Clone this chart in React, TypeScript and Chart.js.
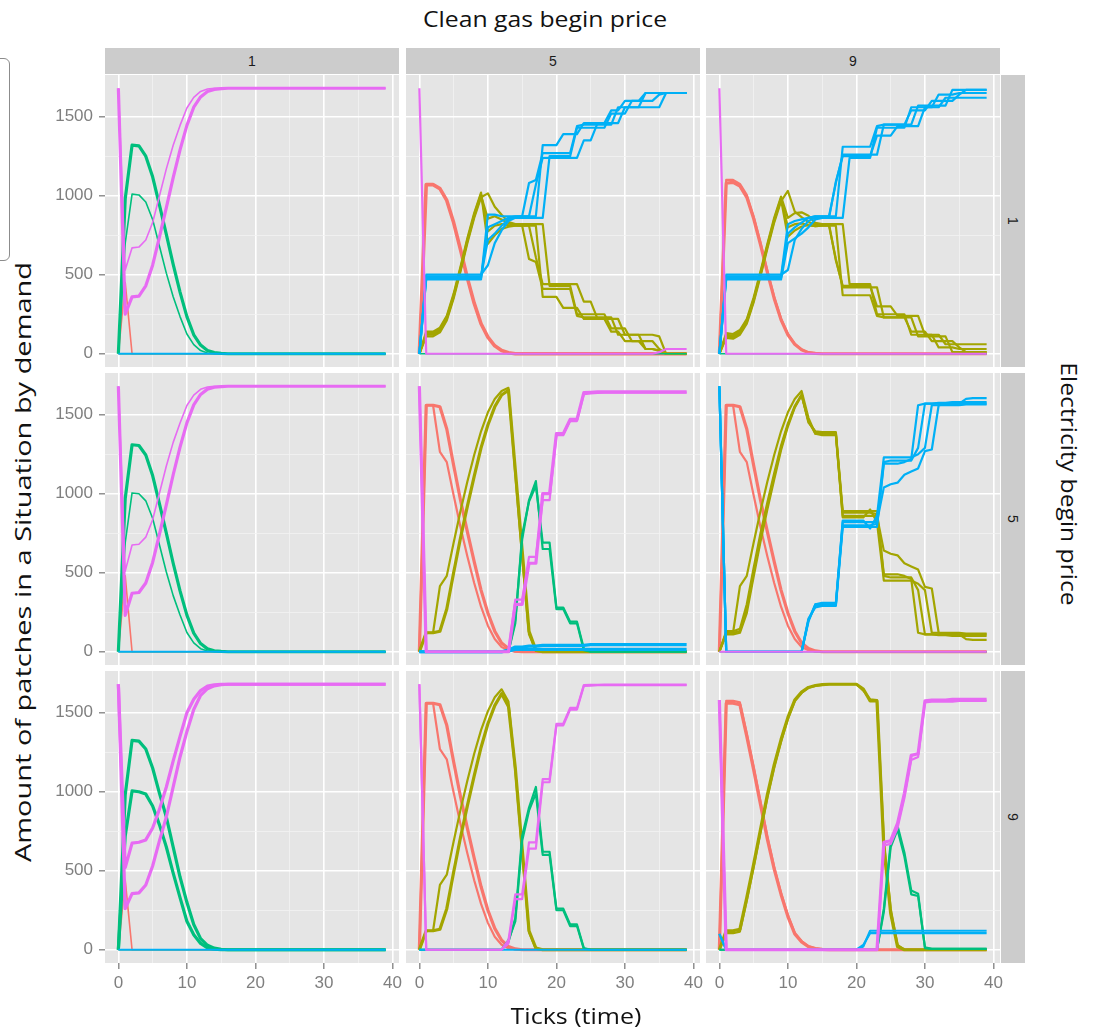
import { useEffect, useLayoutEffect, useRef, useState } from "react";
import { Chart, registerables } from "chart.js";

Chart.register(...registerables);

// ---------------- data ----------------
const TICKS = [0,1,2,3,4,5,6,7,8,9,10,11,12,13,14,15,16,17,18,19,20,21,22,23,24,25,26,27,28,29,30,31,32,33,34,35,36,37,38,39];
const X_GRID = [0, 5, 10, 15, 20, 25, 30, 35, 40];
const Y_GRID = [0, 250, 500, 750, 1000, 1250, 1500];
const GAS_LEVELS = ["1", "5", "9"];   // columns: Clean gas begin price
const ELEC_LEVELS = ["1", "5", "9"];  // rows: Electricity begin price

const ZERO = [0,0,0,0,0,0,0,0,0,0, 0,0,0,0,0,0,0,0,0,0, 0,0,0,0,0,0,0,0,0,0, 0,0,0,0,0,0,0,0,0,0];

// electricity 1, gas 1
const e1g1_red = [0,450,0,0,0,0,0,0,0,0, 0,0,0,0,0,0,0,0,0,0, 0,0,0,0,0,0,0,0,0,0, 0,0,0,0,0,0,0,0,0,0];
const e1g1_greenA = [0,980,1320,1315,1250,1120,940,755,565,390, 235,120,55,20,7,2,0,0,0,0, 0,0,0,0,0,0,0,0,0,0, 0,0,0,0,0,0,0,0,0,0];
const e1g1_greenB = [0,700,1010,1005,960,850,680,510,360,235, 125,58,20,5,0,0,0,0,0,0, 0,0,0,0,0,0,0,0,0,0, 0,0,0,0,0,0,0,0,0,0];
const e1g1_magA = [1680,250,360,365,430,560,740,925,1115,1290, 1445,1560,1625,1660,1673,1678,1680,1680,1680,1680, 1680,1680,1680,1680,1680,1680,1680,1680,1680,1680, 1680,1680,1680,1680,1680,1680,1680,1680,1680,1680];
const e1g1_magB = [1680,530,670,675,720,830,1000,1170,1320,1445, 1555,1622,1660,1675,1680,1680,1680,1680,1680,1680, 1680,1680,1680,1680,1680,1680,1680,1680,1680,1680, 1680,1680,1680,1680,1680,1680,1680,1680,1680,1680];

// electricity 5, gas 1
const e5g1_red = [0,480,0,0,0,0,0,0,0,0, 0,0,0,0,0,0,0,0,0,0, 0,0,0,0,0,0,0,0,0,0, 0,0,0,0,0,0,0,0,0,0];
const e5g1_greenA = [0,970,1310,1305,1245,1115,935,750,560,385, 232,118,52,18,6,2,0,0,0,0, 0,0,0,0,0,0,0,0,0,0, 0,0,0,0,0,0,0,0,0,0];
const e5g1_greenB = [0,690,1005,1000,955,845,675,505,355,232, 122,56,19,5,0,0,0,0,0,0, 0,0,0,0,0,0,0,0,0,0, 0,0,0,0,0,0,0,0,0,0];
const e5g1_magA = [1680,230,370,375,435,565,745,930,1120,1295, 1448,1562,1628,1662,1674,1678,1680,1680,1680,1680, 1680,1680,1680,1680,1680,1680,1680,1680,1680,1680, 1680,1680,1680,1680,1680,1680,1680,1680,1680,1680];
const e5g1_magB = [1680,510,675,680,725,835,1005,1175,1325,1448, 1558,1624,1661,1675,1680,1680,1680,1680,1680,1680, 1680,1680,1680,1680,1680,1680,1680,1680,1680,1680, 1680,1680,1680,1680,1680,1680,1680,1680,1680,1680];

// electricity 9, gas 1
const e9g1_red = [0,440,0,0,0,0,0,0,0,0, 0,0,0,0,0,0,0,0,0,0, 0,0,0,0,0,0,0,0,0,0, 0,0,0,0,0,0,0,0,0,0];
const e9g1_greenA = [0,980,1325,1320,1270,1150,990,840,650,460, 300,160,70,28,10,3,0,0,0,0, 0,0,0,0,0,0,0,0,0,0, 0,0,0,0,0,0,0,0,0,0];
const e9g1_greenB = [0,720,1005,1000,985,910,790,650,485,330, 180,95,40,12,4,0,0,0,0,0, 0,0,0,0,0,0,0,0,0,0, 0,0,0,0,0,0,0,0,0,0];
const e9g1_magA = [1680,260,355,360,410,530,690,840,1030,1220, 1380,1520,1610,1652,1670,1677,1680,1680,1680,1680, 1680,1680,1680,1680,1680,1680,1680,1680,1680,1680, 1680,1680,1680,1680,1680,1680,1680,1680,1680,1680];
const e9g1_magB = [1680,520,675,680,695,770,890,1030,1195,1350, 1500,1585,1640,1668,1676,1680,1680,1680,1680,1680, 1680,1680,1680,1680,1680,1680,1680,1680,1680,1680, 1680,1680,1680,1680,1680,1680,1680,1680,1680,1680];

// electricity 1, gas 5
const e1g5_red = [0,1070,1070,1045,970,830,660,480,320,190, 105,50,20,6,0,0,0,0,0,0, 0,0,0,0,0,0,0,0,0,0, 0,0,0,0,0,0,0,0,0,0];
const e1g5_mag = [1680,0,0,0,0,0,0,0,0,0, 0,0,0,0,0,0,0,0,0,0, 0,0,0,0,0,0,0,0,0,0, 0,0,0,0,0,10,30,30,30,30];
const e1g5_blueA = [0,480,480,480,480,480,480,480,480,480, 800,820,840,860,870,870,1080,1100,1270,1270, 1270,1270,1270,1440,1450,1450,1450,1450,1450,1560, 1560,1560,1560,1650,1650,1650,1650,1650,1650,1650];
const e1g5_blueB = [0,470,470,470,470,470,470,470,470,470, 880,880,870,870,870,870,870,870,1320,1320, 1320,1390,1390,1390,1460,1460,1460,1460,1540,1540, 1600,1600,1600,1600,1600,1640,1650,1650,1650,1650];
const e1g5_blueC = [0,490,490,490,490,490,490,490,490,490, 720,760,810,850,865,870,870,1070,1240,1240, 1240,1240,1240,1240,1350,1350,1460,1460,1460,1460, 1560,1560,1560,1560,1560,1560,1650,1650,1650,1650];
const e1g5_blueD = [0,500,500,500,500,500,500,500,500,500, 560,700,780,840,860,860,860,860,860,1250, 1250,1250,1250,1430,1430,1430,1430,1430,1520,1520, 1520,1600,1600,1650,1650,1650,1650,1650,1650,1650];
const e1g5_oliveA = [0,130,130,155,230,370,540,720,880,1010, 775,810,820,814,810,810,600,580,410,410, 410,410,410,240,230,230,230,230,230,120, 120,120,120,30,30,20,0,0,0,0];
const e1g5_oliveB = [0,140,140,165,240,380,550,730,890,1020, 695,750,790,804,810,810,810,810,360,360, 360,290,290,290,220,220,220,220,140,140, 80,80,80,80,80,30,0,0,0,0];
const e1g5_oliveC = [0,120,120,145,220,360,530,710,870,1000, 855,870,850,824,815,810,810,610,440,440, 440,440,440,440,330,330,220,220,220,220, 120,120,120,120,120,110,0,0,0,0];
const e1g5_oliveD = [0,110,110,135,210,350,520,700,860,990, 1015,930,880,834,820,820,820,820,820,430, 430,430,430,250,250,250,250,250,160,160, 160,80,80,30,30,20,0,0,0,0];

// electricity 1, gas 9
const e1g9_redA = [0,1080,1085,1060,990,855,690,515,350,215, 120,60,25,7,2,0,0,0,0,0, 0,0,0,0,0,0,0,0,0,0, 0,0,0,0,0,0,0,0,0,0];
const e1g9_redB = [0,1100,1100,1075,1005,870,705,525,360,222, 125,62,26,8,2,0,0,0,0,0, 0,0,0,0,0,0,0,0,0,0, 0,0,0,0,0,0,0,0,0,0];
const e1g9_mag = [1680,0,0,0,0,0,0,0,0,0, 0,0,0,0,0,0,0,0,0,0, 0,0,0,0,0,0,0,0,0,0, 0,0,0,0,0,0,0,0,0,0];
const e1g9_blueA = [0,480,480,480,480,480,480,480,480,480, 760,800,830,860,870,870,870,870,1310,1310, 1310,1310,1310,1440,1450,1450,1450,1450,1450,1570, 1570,1570,1570,1570,1670,1670,1670,1670,1670,1670];
const e1g9_blueB = [0,470,470,470,470,470,470,470,470,470, 700,730,760,800,850,860,860,1090,1250,1250, 1250,1250,1250,1380,1380,1380,1440,1440,1440,1440, 1560,1560,1560,1620,1620,1620,1620,1620,1620,1620];
const e1g9_blueC = [0,490,490,490,490,490,490,490,490,490, 820,840,850,860,870,870,870,1080,1260,1260, 1260,1260,1260,1260,1450,1450,1450,1450,1540,1540, 1540,1600,1600,1600,1600,1640,1670,1670,1670,1670];
const e1g9_blueD = [0,500,500,500,500,500,500,500,500,500, 530,720,790,840,860,860,860,860,860,1240, 1240,1240,1240,1430,1430,1430,1430,1430,1560,1560, 1560,1560,1640,1640,1640,1650,1650,1650,1650,1650];
const e1g9_oliveA = [0,120,115,140,210,345,510,685,850,985, 800,820,825,813,808,810,810,810,370,370, 370,370,370,240,230,230,230,230,230,110, 110,110,110,110,10,10,10,10,10,10];
const e1g9_oliveB = [0,130,125,150,220,355,520,695,860,995, 860,890,895,873,828,820,820,590,430,430, 430,430,430,300,300,300,240,240,240,240, 120,120,120,60,60,60,60,60,60,60];
const e1g9_oliveC = [0,110,105,130,200,335,500,675,840,975, 740,780,805,813,808,810,810,600,420,420, 420,420,420,420,230,230,230,230,140,140, 140,80,80,80,80,40,10,10,10,10];
const e1g9_oliveD = [0,100,95,120,190,325,490,665,830,965, 1030,900,865,833,818,820,820,820,820,440, 440,440,440,250,250,250,250,250,120,120, 120,120,40,40,40,30,30,30,30,30];

// electricity 5, gas 5
const e5g5_redA = [0,1560,1560,1550,1410,1180,960,760,570,390, 245,130,55,20,3,0,0,0,0,0, 0,0,0,0,0,0,0,0,0,0, 0,0,0,0,0,0,0,0,0,0];
const e5g5_redB = [0,1560,1560,1265,1200,990,790,605,435,285, 165,80,30,10,0,0,0,0,0,0, 0,0,0,0,0,0,0,0,0,0, 0,0,0,0,0,0,0,0,0,0];
const e5g5_oliveA = [0,120,120,130,270,500,720,920,1110,1290, 1435,1550,1625,1655,1150,640,130,10,0,0, 0,0,0,0,0,0,0,0,0,0, 0,0,0,0,0,0,0,0,0,0];
const e5g5_oliveB = [0,120,120,415,480,690,890,1075,1245,1395, 1515,1600,1650,1670,1120,600,110,5,0,0, 0,0,0,0,0,0,0,0,0,0, 0,0,0,0,0,0,0,0,0,0];
const e5g5_greenA = [0,0,0,0,0,0,0,0,0,0, 0,0,0,0,200,710,960,1080,650,650, 270,270,180,180,10,0,0,0,0,0, 0,0,0,0,0,0,0,0,0,0];
const e5g5_greenB = [0,0,0,0,0,0,0,0,0,0, 0,0,0,0,180,740,950,1050,690,690, 280,280,190,190,20,0,0,0,0,0, 0,0,0,0,0,0,0,0,0,0];
const e5g5_magA = [1680,0,0,0,0,0,0,0,0,0, 0,0,0,0,300,300,560,560,1000,1000, 1380,1380,1470,1470,1640,1642,1644,1645,1645,1645, 1645,1645,1645,1645,1645,1645,1645,1645,1645,1645];
const e5g5_magB = [1680,0,0,0,0,0,0,0,0,0, 0,0,0,0,330,330,600,600,960,960, 1370,1370,1460,1460,1630,1635,1638,1640,1640,1640, 1640,1640,1640,1640,1640,1640,1640,1640,1640,1640];
const e5g5_blueA = [0,0,0,0,0,0,0,0,0,0, 0,0,0,10,30,30,35,35,40,40, 40,40,40,40,40,45,45,45,45,45, 45,45,45,45,45,45,45,45,45,45];
const e5g5_blueB = [0,0,0,0,0,0,0,0,0,0, 0,0,0,5,15,15,15,15,15,15, 15,15,15,15,15,15,15,15,15,15, 15,15,15,15,15,15,15,15,15,15];

// electricity 9, gas 5
const e9g5_redA = [0,1560,1560,1550,1420,1190,970,770,580,400, 250,135,60,20,5,0,0,0,0,0, 0,0,0,0,0,0,0,0,0,0, 0,0,0,0,0,0,0,0,0,0];
const e9g5_redB = [0,1560,1560,1270,1205,995,795,610,440,290, 170,82,32,10,2,0,0,0,0,0, 0,0,0,0,0,0,0,0,0,0, 0,0,0,0,0,0,0,0,0,0];
const e9g5_oliveA = [0,120,120,130,260,490,710,910,1100,1280, 1430,1545,1620,1540,1150,640,120,10,0,0, 0,0,0,0,0,0,0,0,0,0, 0,0,0,0,0,0,0,0,0,0];
const e9g5_oliveB = [0,120,120,410,475,685,885,1070,1240,1390, 1510,1598,1648,1570,1130,620,110,5,0,0, 0,0,0,0,0,0,0,0,0,0, 0,0,0,0,0,0,0,0,0,0];
const e9g5_greenA = [0,0,0,0,0,0,0,0,0,0, 0,0,0,60,180,690,880,990,600,600, 250,250,150,150,5,0,0,0,0,0, 0,0,0,0,0,0,0,0,0,0];
const e9g5_greenB = [0,0,0,0,0,0,0,0,0,0, 0,0,0,50,200,720,900,1030,620,620, 260,260,160,160,10,0,0,0,0,0, 0,0,0,0,0,0,0,0,0,0];
const e9g5_magA = [1680,0,0,0,0,0,0,0,0,0, 0,0,0,60,350,350,680,680,1080,1080, 1430,1430,1530,1530,1675,1676,1677,1678,1678,1678, 1678,1678,1678,1678,1678,1678,1678,1678,1678,1678];
const e9g5_magB = [1680,0,0,0,0,0,0,0,0,0, 0,0,0,40,320,320,640,640,1060,1060, 1420,1420,1520,1520,1670,1672,1674,1675,1675,1675, 1675,1675,1675,1675,1675,1675,1675,1675,1675,1675];

// electricity 5, gas 9
const e5g9_redA = [0,1560,1560,1550,1410,1180,960,760,570,390, 245,130,55,20,5,0,0,0,0,0, 0,0,0,0,0,0,0,0,0,0, 0,0,0,0,0,0,0,0,0,0];
const e5g9_redB = [0,1560,1560,1265,1200,990,790,605,435,285, 165,80,30,10,2,0,0,0,0,0, 0,0,0,0,0,0,0,0,0,0, 0,0,0,0,0,0,0,0,0,0];
const e5g9_oliveA = [0,120,120,130,270,500,720,920,1110,1290, 1435,1550,1625,1460,1390,1380,1380,1380,880,880, 880,880,880,870,480,470,470,470,470,390, 110,110,110,110,110,110,110,110,110,110];
const e5g9_oliveB = [0,120,120,415,480,690,890,1075,1245,1395, 1515,1600,1650,1480,1380,1370,1370,1370,860,860, 860,860,860,860,640,620,610,560,540,520, 410,400,120,115,115,110,80,75,75,75];
const e5g9_oliveC = [0,130,130,145,300,530,750,945,1130,1305, 1445,1555,1628,1450,1395,1390,1390,1390,890,890, 890,890,890,890,490,490,490,480,460,120, 110,110,105,105,100,100,100,100,100,100];
const e5g9_oliveD = [0,110,110,120,245,475,695,900,1090,1275, 1425,1545,1622,1460,1380,1380,1380,1380,850,850, 850,850,900,820,450,450,450,450,450,430, 390,120,120,120,120,120,115,115,115,115];
const e5g9_blueA = [1680,0,0,0,0,0,0,0,0,0, 0,0,0,200,290,300,300,300,800,800, 800,800,800,810,1200,1210,1210,1210,1210,1290, 1570,1570,1570,1570,1570,1570,1570,1570,1570,1570];
const e5g9_blueB = [1680,0,0,0,0,0,0,0,0,0, 0,0,0,190,300,310,310,310,820,820, 820,820,820,820,1040,1060,1070,1120,1140,1160, 1270,1280,1560,1565,1565,1570,1600,1605,1605,1605];
const e5g9_blueC = [1680,0,0,0,0,0,0,0,0,0, 0,0,0,210,280,290,290,290,790,790, 790,790,790,790,1190,1190,1190,1200,1220,1560, 1570,1570,1575,1575,1580,1580,1580,1580,1580,1580];
const e5g9_blueD = [1680,0,0,0,0,0,0,0,0,0, 0,0,0,200,300,300,300,300,830,830, 830,830,780,860,1230,1230,1230,1230,1230,1250, 1290,1560,1560,1560,1560,1560,1565,1565,1565,1565];

// electricity 9, gas 9
const e9g9_redA = [0,1560,1560,1550,1350,1140,920,700,510,350, 210,100,50,20,8,2,0,0,0,0, 0,0,0,0,0,0,0,0,0,0, 0,0,0,0,0,0,0,0,0,0];
const e9g9_redB = [0,1575,1575,1565,1370,1160,940,720,525,360, 220,108,55,22,9,2,0,0,0,0, 0,0,0,0,0,0,0,0,0,0, 0,0,0,0,0,0,0,0,0,0];
const e9g9_oliveA = [0,120,120,130,330,540,760,980,1170,1330, 1470,1580,1630,1660,1672,1678,1680,1680,1680,1680, 1680,1650,1575,1575,650,230,20,0,0,0, 0,0,0,0,0,0,0,0,0,0];
const e9g9_oliveB = [0,105,105,115,310,520,740,960,1150,1315, 1460,1572,1625,1658,1670,1676,1680,1680,1680,1680, 1680,1640,1585,1580,700,260,30,0,0,0, 0,0,0,0,0,0,0,0,0,0];
const e9g9_greenA = [0,0,0,0,0,0,0,0,0,0, 0,0,0,0,0,0,0,0,0,0, 0,0,0,0,260,675,785,615,375,355, 10,5,5,5,5,5,5,5,5,5];
const e9g9_greenB = [0,0,0,0,0,0,0,0,0,0, 0,0,0,0,0,0,0,0,0,0, 0,0,0,0,240,650,760,590,350,340, 15,5,5,5,5,5,5,5,5,5];
const e9g9_magA = [1580,0,0,0,0,0,0,0,0,0, 0,0,0,0,0,0,0,0,0,0, 0,0,0,0,660,670,770,960,1200,1220, 1565,1570,1570,1570,1570,1575,1575,1575,1575,1575];
const e9g9_magB = [1580,0,0,0,0,0,0,0,0,0, 0,0,0,0,0,0,0,0,0,0, 0,0,0,0,680,690,800,990,1230,1240, 1575,1580,1580,1580,1585,1585,1585,1585,1585,1585];
const e9g9_blueA = [100,0,0,0,0,0,0,0,0,0, 0,0,0,0,0,0,0,0,0,0, 0,30,105,105,105,105,105,105,105,105, 105,105,105,105,105,105,105,105,105,105];
const e9g9_blueB = [100,0,0,0,0,0,0,0,0,0, 0,0,0,0,0,0,0,0,0,0, 0,20,120,120,120,120,120,120,120,120, 120,120,120,120,120,120,120,120,120,120];

// ---------------- styling ----------------
const COLORS: Record<string, string> = {
  red: "#F8766D",
  olive: "#A3A500",
  green: "#00BF7D",
  blue: "#00B0F6",
  magenta: "#E76BF3",
};
const ORDER: Record<string, number> = { red: 4, olive: 3, green: 2, blue: 1, magenta: 0 };

type Run = [string, number[], number];

const THIN = 1.6;
const MID = 2.2;
const THICK = 3.2;

// panels, row-major: rows = electricity 1,5,9 ; cols = gas 1,5,9
const PANELS: Run[][] = [
  [
    ["red", e1g1_red, THIN], ["olive", ZERO, THIN], ["green", e1g1_greenA, THICK], ["green", e1g1_greenB, THIN],
    ["blue", ZERO, MID], ["magenta", e1g1_magA, THICK], ["magenta", e1g1_magB, THIN],
  ],
  [
    ["red", e1g5_red, 3.6], ["green", ZERO, THIN],
    ["olive", e1g5_oliveA, MID], ["olive", e1g5_oliveB, MID], ["olive", e1g5_oliveC, MID], ["olive", e1g5_oliveD, MID],
    ["blue", e1g5_blueA, MID], ["blue", e1g5_blueB, MID], ["blue", e1g5_blueC, MID], ["blue", e1g5_blueD, MID],
    ["magenta", e1g5_mag, MID],
  ],
  [
    ["red", e1g9_redA, THICK], ["red", e1g9_redB, MID], ["green", ZERO, THIN],
    ["olive", e1g9_oliveA, MID], ["olive", e1g9_oliveB, MID], ["olive", e1g9_oliveC, MID], ["olive", e1g9_oliveD, MID],
    ["blue", e1g9_blueA, MID], ["blue", e1g9_blueB, MID], ["blue", e1g9_blueC, MID], ["blue", e1g9_blueD, MID],
    ["magenta", e1g9_mag, MID],
  ],
  [
    ["red", e5g1_red, THIN], ["olive", ZERO, THIN], ["green", e5g1_greenA, THICK], ["green", e5g1_greenB, THIN],
    ["blue", ZERO, MID], ["magenta", e5g1_magA, THICK], ["magenta", e5g1_magB, THIN],
  ],
  [
    ["red", e5g5_redA, THICK], ["red", e5g5_redB, MID], ["olive", e5g5_oliveA, THICK], ["olive", e5g5_oliveB, MID],
    ["green", e5g5_greenA, MID], ["green", e5g5_greenB, MID],
    ["blue", e5g5_blueA, THICK], ["blue", e5g5_blueB, THICK],
    ["magenta", e5g5_magA, THICK], ["magenta", e5g5_magB, MID],
  ],
  [
    ["red", e5g9_redA, THICK], ["red", e5g9_redB, MID], ["green", ZERO, THIN],
    ["olive", e5g9_oliveA, MID], ["olive", e5g9_oliveB, MID], ["olive", e5g9_oliveC, MID], ["olive", e5g9_oliveD, MID],
    ["blue", e5g9_blueA, MID], ["blue", e5g9_blueB, MID], ["blue", e5g9_blueC, MID], ["blue", e5g9_blueD, MID],
    ["magenta", ZERO, MID],
  ],
  [
    ["red", e9g1_red, THIN], ["olive", ZERO, THIN], ["green", e9g1_greenA, THICK], ["green", e9g1_greenB, THICK],
    ["blue", ZERO, MID], ["magenta", e9g1_magA, THICK], ["magenta", e9g1_magB, THICK],
  ],
  [
    ["red", e9g5_redA, THICK], ["red", e9g5_redB, MID], ["olive", e9g5_oliveA, THICK], ["olive", e9g5_oliveB, MID],
    ["green", e9g5_greenA, MID], ["green", e9g5_greenB, MID],
    ["blue", ZERO, MID],
    ["magenta", e9g5_magA, MID], ["magenta", e9g5_magB, MID],
  ],
  [
    ["red", e9g9_redA, THICK], ["red", e9g9_redB, MID], ["olive", e9g9_oliveA, THICK], ["olive", e9g9_oliveB, MID],
    ["green", e9g9_greenA, MID], ["green", e9g9_greenB, MID],
    ["blue", e9g9_blueA, MID], ["blue", e9g9_blueB, MID],
    ["magenta", e9g9_magA, MID], ["magenta", e9g9_magB, THICK],
  ],
];

// ---------------- layout ----------------
const COL_L = [105, 406, 706];
const PANEL_W = 294;
const ROW_T = [75, 373, 671];
const PANEL_H = 292;
const STRIP_BG = "#CCCCCC";
const PANEL_BG = "#E5E5E5";
const TICK_COLOR = "#7F7F7F";
const AXIS_FONT = "'Liberation Sans', Arial, sans-serif";
const TITLE_FONT = "'Open Sans', 'Liberation Sans', sans-serif";

const bgPlugin = {
  id: "panelBg",
  beforeDraw(chart: any) {
    const { ctx, chartArea: a } = chart;
    ctx.save();
    ctx.fillStyle = PANEL_BG;
    ctx.fillRect(a.left, a.top, a.right - a.left, a.bottom - a.top);
    ctx.restore();
  },
};

function Panel({ runs, row, col }: { runs: Run[]; row: number; col: number }) {
  const ref = useRef<HTMLCanvasElement>(null);
  const showY = col === 0;
  const showX = row === 2;
  const padL = showY ? 64 : 0;
  const padB = showX ? 40 : 0;
  const padR = showX ? 14 : 0;
  const w = PANEL_W + padL + padR;
  const h = PANEL_H + padB;

  useEffect(() => {
    const xMajor = (v: number) => v % 10 === 0;
    const yMajor = (v: number) => v % 500 === 0;
    const chart = new Chart(ref.current as HTMLCanvasElement, {
      type: "line",
      data: {
        datasets: runs.map(([s, vals, bw]) => ({
          data: vals.map((y, i) => ({ x: TICKS[i], y })),
          borderColor: COLORS[s],
          backgroundColor: COLORS[s],
          borderWidth: bw,
          pointRadius: 0,
          pointHoverRadius: 0,
          tension: 0,
          fill: false,
          order: ORDER[s],
          borderJoinStyle: "round",
        })),
      },
      options: {
        responsive: false,
        animation: false,
        devicePixelRatio: 1,
        events: [],
        layout: { padding: { left: 0, right: padR, top: 0, bottom: 0 } },
        plugins: { legend: { display: false }, tooltip: { enabled: false } },
        scales: {
          x: {
            type: "linear",
            min: -1.95,
            max: 40.95,
            afterBuildTicks: (s: any) => {
              s.ticks = X_GRID.map((v) => ({ value: v }));
            },
            afterFit: (s: any) => {
              s.height = padB;
              s.paddingLeft = 0;
              s.paddingRight = 0;
            },
            border: { display: false },
            grid: {
              color: (c: any) => (c.tick && xMajor(c.tick.value) ? "#FFFFFF" : "#F2F2F2"),
              lineWidth: (c: any) => (c.tick && xMajor(c.tick.value) ? 1.6 : 0.8),
              drawTicks: showX,
              tickLength: 6,
              tickWidth: 1.3,
              tickColor: (c: any) => (c.tick && xMajor(c.tick.value) ? TICK_COLOR : "rgba(0,0,0,0)"),
            },
            ticks: {
              display: showX,
              autoSkip: false,
              maxRotation: 0,
              padding: 4,
              color: TICK_COLOR,
              font: { family: AXIS_FONT, size: 17 },
              callback: (v: any) => (xMajor(Number(v)) ? String(v) : ""),
            },
          },
          y: {
            type: "linear",
            min: -84,
            max: 1764,
            afterBuildTicks: (s: any) => {
              s.ticks = Y_GRID.map((v) => ({ value: v }));
            },
            afterFit: (s: any) => {
              s.width = padL;
              s.paddingTop = 0;
              s.paddingBottom = 0;
            },
            border: { display: false },
            grid: {
              color: (c: any) => (c.tick && yMajor(c.tick.value) ? "#FFFFFF" : "#F2F2F2"),
              lineWidth: (c: any) => (c.tick && yMajor(c.tick.value) ? 1.6 : 0.8),
              drawTicks: showY,
              tickLength: 6,
              tickWidth: 1.3,
              tickColor: (c: any) => (c.tick && yMajor(c.tick.value) ? TICK_COLOR : "rgba(0,0,0,0)"),
            },
            ticks: {
              display: showY,
              autoSkip: false,
              padding: 6,
              color: TICK_COLOR,
              font: { family: AXIS_FONT, size: 17 },
              callback: (v: any) => (yMajor(Number(v)) ? String(v) : ""),
            },
          },
        },
      },
      plugins: [bgPlugin],
    } as any);
    return () => chart.destroy();
  }, [runs, row, col]);

  return (
    <canvas
      ref={ref}
      width={w}
      height={h}
      style={{ position: "absolute", left: COL_L[col] - padL, top: ROW_T[row], width: w, height: h }}
    />
  );
}

// text stretched to a given length (the reference lettering is wide)
function FitText({ text, cx, cy, len, rotate, size }: { text: string; cx: number; cy: number; len: number; rotate: number; size: number }) {
  const ref = useRef<HTMLSpanElement>(null);
  const [sx, setSx] = useState(1);
  useLayoutEffect(() => {
    if (ref.current) {
      const wd = ref.current.offsetWidth;
      if (wd > 0) setSx(len / wd);
    }
  }, [text, len, size]);
  return (
    <span
      ref={ref}
      style={{
        position: "absolute",
        left: cx,
        top: cy,
        whiteSpace: "nowrap",
        fontFamily: TITLE_FONT,
        fontSize: size,
        lineHeight: 1,
        color: "#111111",
        transform: `translate(-50%, -50%) rotate(${rotate}deg) scaleX(${sx})`,
        transformOrigin: "center center",
      }}
    >
      {text}
    </span>
  );
}

export default function App() {
  return (
    <div
      style={{
        position: "absolute",
        left: 0,
        top: 0,
        width: 1101,
        height: 1036,
        background: "#FFFFFF",
        overflow: "hidden",
        fontFamily: AXIS_FONT,
      }}
    >
      {/* edge of a neighbouring text box visible at the left border */}
      <div
        style={{
          position: "absolute",
          left: -14,
          top: 58,
          width: 22,
          height: 201,
          border: "1.5px solid #8C8C8C",
          borderRadius: 6,
        }}
      />

      <FitText text="Clean gas begin price" cx={545} cy={19} len={244} rotate={0} size={21} />

      {GAS_LEVELS.map((lab, c) => (
        <div
          key={"cs" + c}
          style={{
            position: "absolute",
            left: COL_L[c],
            top: 48,
            width: PANEL_W,
            height: 26,
            background: STRIP_BG,
            display: "flex",
            alignItems: "center",
            justifyContent: "center",
            fontSize: 14,
            color: "#1A1A1A",
          }}
        >
          {lab}
        </div>
      ))}

      {ELEC_LEVELS.map((lab, r) => (
        <div
          key={"rs" + r}
          style={{
            position: "absolute",
            left: 1001,
            top: ROW_T[r],
            width: 24,
            height: PANEL_H,
            background: STRIP_BG,
            display: "flex",
            alignItems: "center",
            justifyContent: "center",
            fontSize: 14,
            color: "#1A1A1A",
          }}
        >
          <span style={{ transform: "rotate(90deg)", display: "inline-block" }}>{lab}</span>
        </div>
      ))}

      {PANELS.map((runs, i) => (
        <Panel key={i} runs={runs} row={Math.floor(i / 3)} col={i % 3} />
      ))}

      <FitText text="Amount of patches in a Situation by demand" cx={23} cy={562} len={600} rotate={-90} size={21} />
      <FitText text="Ticks (time)" cx={576} cy={1016} len={131} rotate={0} size={21} />
      <FitText text="Electricity begin price" cx={1068} cy={484} len={243} rotate={90} size={21} />
    </div>
  );
}
